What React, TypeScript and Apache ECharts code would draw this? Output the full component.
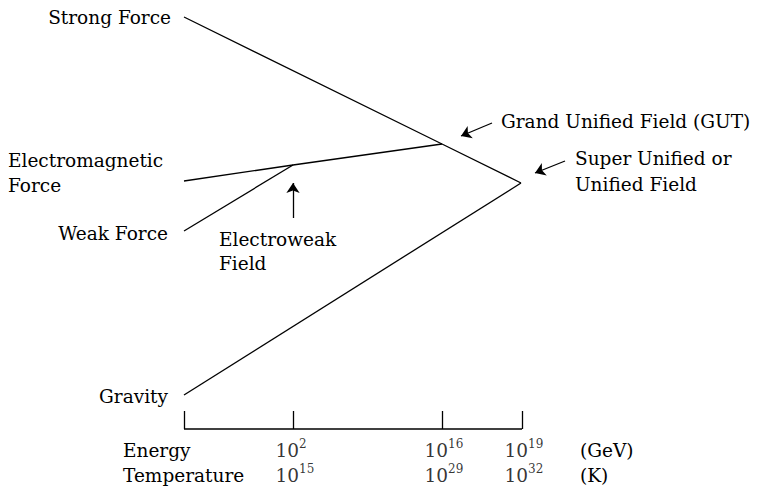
import React, { useEffect, useRef } from "react";
import * as echarts from "echarts";

// positions along the energy scale (arbitrary axis units) and force strength (arbitrary units)
const tickPositions = [0, 109, 258, 338];
const energyExponents = ["2", "16", "19"];
const temperatureExponents = ["15", "29", "32"];
const labelTicks = [109, 258, 338];

const strongForce = [[0, 412], [258, 285], [337, 246]];
const electromagnetic = [[0, 248], [109, 264], [258, 285]];
const weakForce = [[0, 198], [109, 264]];
const gravity = [[0, 34], [337, 246]];
const energyAxis = [[0, 0], [338, 0]];

const arrows = [
  { from: [109, 211], to: [109, 246] },
  { from: [308, 306], to: [277, 293] },
  { from: [381, 268], to: [351, 256] },
];

const FONT = "DejaVu Serif";
const FS = 18.5;

export default function App() {
  const ref = useRef<HTMLDivElement>(null);
  useEffect(() => {
    if (!ref.current) return;
    const chart = echarts.init(ref.current, null, { renderer: "svg" });
    const lineStyle = { color: "#000", width: 1.3 };
    const mkLine = (name: string, data: number[][], extra: any = {}) => ({
      name,
      type: "line",
      data,
      symbol: "none",
      lineStyle,
      itemStyle: { color: "#000" },
      silent: true,
      clip: false,
      z: 2,
      ...extra,
    });
    const txt = (text: string, x: number, baseline: number, align = "left") => ({
      type: "text",
      x,
      y: baseline - FS * 0.346,
      style: {
        text,
        fontFamily: FONT,
        fontSize: FS,
        fill: "#000",
        align,
        verticalAlign: "middle",
      },
      silent: true,
    });
    chart.setOption({
      animation: false,
      backgroundColor: "#fff",
      grid: { left: 184, top: 0, width: 575, height: 429, containLabel: false },
      xAxis: {
        type: "value",
        min: 0,
        max: 575,
        axisLine: { show: false },
        axisTick: {
          show: true,
          inside: true,
          length: 18,
          customValues: tickPositions,
          lineStyle: { color: "#000", width: 1.3 },
        },
        axisLabel: { show: false },
        splitLine: { show: false },
      },
      yAxis: {
        type: "value",
        min: 0,
        max: 429,
        show: false,
        splitLine: { show: false },
      },
      series: [
        mkLine("Strong Force", strongForce, {
          markLine: {
            silent: true,
            symbol: ["none", "arrow"],
            symbolSize: 10,
            label: { show: false },
            itemStyle: { color: "#000" },
            lineStyle: { color: "#000", width: 1.3, type: "solid" },
            emphasis: { disabled: true },
            data: arrows.map((a) => [{ coord: a.from }, { coord: a.to }]),
          },
        }),
        mkLine("Electromagnetic Force", electromagnetic),
        mkLine("Weak Force", weakForce),
        mkLine("Gravity", gravity),
        mkLine("Energy axis", energyAxis),
        {
          name: "tickLabels",
          type: "scatter",
          data: labelTicks.map((x) => [x, 0]),
          symbolSize: 1,
          itemStyle: { color: "transparent" },
          silent: true,
          label: {
            show: true,
            position: [-17, 9],
            align: "left",
            verticalAlign: "top",
            formatter: (p: any) =>
              `{b|10}{s|${energyExponents[p.dataIndex]}}\n{b|10}{s|${temperatureExponents[p.dataIndex]}}`,
            rich: {
              b: { fontFamily: FONT, fontSize: FS, lineHeight: 25, color: "#000" },
              s: { fontFamily: FONT, fontSize: 12, lineHeight: 14, verticalAlign: "top", color: "#000" },
            },
          },
        },
      ],
      graphic: [
        txt("Strong Force", 171, 24, "right"),
        txt("Electromagnetic", 8, 167),
        txt("Force", 8, 192),
        txt("Weak Force", 168, 240, "right"),
        txt("Gravity", 168, 403, "right"),
        txt("Electroweak", 219, 246),
        txt("Field", 219, 270),
        txt("Grand Unified Field (GUT)", 501, 128),
        txt("Super Unified or", 575, 165),
        txt("Unified Field", 575, 191),
        txt("Energy", 123, 457),
        txt("Temperature", 123, 482),
        txt("(GeV)", 580, 457),
        txt("(K)", 580, 482),
      ],
    });
    return () => chart.dispose();
  }, []);
  return (
    <div
      ref={ref}
      style={{ position: "fixed", left: 0, top: 0, width: 759, height: 490, background: "#fff" }}
    />
  );
}
